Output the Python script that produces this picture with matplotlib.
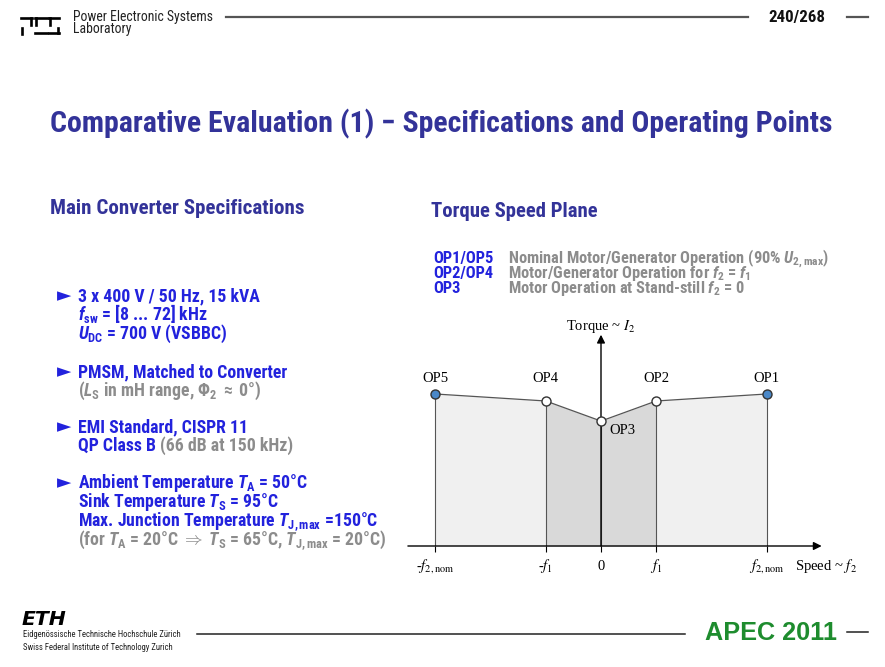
import matplotlib
matplotlib.use("Agg")
import matplotlib.pyplot as plt
from matplotlib import font_manager
import numpy as np

# torque-speed plane: operating points (speed in units of f1, torque normalised)
speed = np.array([-3.0, -1.0, 0.0, 1.0, 3.0])
torque = np.array([1.0, 0.954, 0.822, 0.954, 1.0])
op_names = ["OP5", "OP4", "OP3", "OP2", "OP1"]
op_nominal = [True, False, False, False, True]
speed_labels = [r"-$f_{2,\mathrm{nom}}$", r"-$f_1$", "0", r"$f_1$", r"$f_{2,\mathrm{nom}}$"]

legend_keys = ["OP1/OP5", "OP2/OP4", "OP3"]
legend_text = [r"Nominal Motor/Generator Operation (90% $\mathit{U}_{\mathrm{2,max}}$)",
               r"Motor/Generator Operation for $\mathit{f}_{\mathrm{2}}$ = $\mathit{f}_{\mathrm{1}}$",
               r"Motor Operation at Stand-still $\mathit{f}_{\mathrm{2}}$ = 0"]

BLUE = "#2222dd"
GREY = "#8c8c8c"
NAVY = "#333399"

# pick a narrow sans if there is one
names = {f.name for f in font_manager.fontManager.ttflist}
FAM = "Roboto"
for cand in ["Liberation Sans Narrow", "Roboto Condensed", "Noto Sans Condensed", "Open Sans Condensed"]:
    if cand in names:
        FAM = cand
        break

plt.rcParams["mathtext.fontset"] = "custom"
plt.rcParams["mathtext.rm"] = FAM + ":bold"
plt.rcParams["mathtext.bf"] = FAM + ":bold"
plt.rcParams["mathtext.it"] = FAM + ":italic:bold"

fig = plt.figure(figsize=(8.85, 6.67), dpi=100)
renderer = fig.canvas.get_renderer()
bg = fig.add_axes([0, 0, 1, 1])
bg.set_xlim(0, 885)
bg.set_ylim(667, 0)
bg.axis("off")


def width(s, size, **kw):
    t = bg.text(0, 0, s, fontsize=size, **kw)
    w = t.get_window_extent(renderer).width
    t.remove()
    return w


def fit(s, target, **kw):
    return 10 * target / width(s, 10, **kw)


sans = dict(family=FAM, fontweight="bold", math_fontfamily="custom")

# header (PES logo drawn from bars)
logo = [((21, 32), (17.5, 17.5)), ((31, 31), (17.5, 25)), ((22, 22), (27.5, 33.5)),
        ((35, 47), (17.5, 17.5)), ((36, 36), (17.5, 25)), ((35, 47), (33, 33)),
        ((49, 59), (17.5, 17.5)), ((50, 50), (17.5, 25)), ((49, 59), (33, 33)), ((58, 58), (27.5, 33))]
for xs, ys in logo:
    bg.plot(xs, ys, color="black", lw=1.9, solid_capstyle="projecting")
hsize = fit("Power Electronic Systems", 140, family=FAM)
bg.text(73, 21, "Power Electronic Systems", family=FAM, fontsize=hsize, color="#222222", va="baseline")
bg.text(73, 33, "Laboratory", family=FAM, fontsize=hsize, color="#222222", va="baseline")
bg.plot([226, 748], [17, 17], color="#555555", lw=1.6)
bg.text(768, 22, "240/268", fontsize=fit("240/268", 57, **sans), color="#111111", va="baseline", **sans)
bg.plot([847, 868], [17, 17], color="#555555", lw=1.6)

# title and section headings
title = "Comparative Evaluation (1) \u2212 Specifications and Operating Points"
bg.text(50, 132, title, fontsize=fit(title, 783, **sans), color=NAVY, va="baseline", **sans)
bg.text(50, 214, "Main Converter Specifications",
        fontsize=fit("Main Converter Specifications", 255, **sans), color=NAVY, va="baseline", **sans)
bg.text(431, 217, "Torque Speed Plane",
        fontsize=fit("Torque Speed Plane", 167, **sans), color=NAVY, va="baseline", **sans)

# bullet list
bullets = [
    (301, [[("3 x 400 V / 50 Hz, 15 kVA", BLUE)],
           [(r"$\mathit{f}_{\mathrm{sw}}$ = [8 ... 72] kHz", BLUE)],
           [(r"$\mathit{U}_{\mathrm{DC}}$ = 700 V (VSBBC)", BLUE)]]),
    (377, [[("PMSM, Matched to Converter", BLUE)],
           [(r"($\mathit{L}_{\mathrm{S}}$ in mH range, $\Phi_{\mathrm{2}}$ $\approx$ 0°)", GREY)]]),
    (432, [[("EMI Standard, CISPR 11", BLUE)],
           [("QP Class B", BLUE), ("(66 dB at 150 kHz)", GREY)]]),
    (488, [[(r"Ambient Temperature $\mathit{T}_{\mathrm{A}}$ = 50°C", BLUE)],
           [(r"Sink Temperature $\mathit{T}_{\mathrm{S}}$ = 95°C", BLUE)],
           [(r"Max. Junction Temperature $\mathit{T}_{\mathrm{J,max}}$ =150°C", BLUE)],
           [(r"(for $\mathit{T}_{\mathrm{A}}$ = 20°C $\Rightarrow$ $\mathit{T}_{\mathrm{S}}$ = 65°C, "
             r"$\mathit{T}_{\mathrm{J,max}}$ = 20°C)", GREY)]]),
]
bsize = 0.5 * (fit(bullets[3][1][3][0][0], 305, **sans) + fit(bullets[3][1][2][0][0], 305, **sans))
gap = width("x x", bsize, **sans) - width("xx", bsize, **sans)
for y0, lines in bullets:
    bg.text(57, y0, "\u25ba", family="DejaVu Sans", fontsize=bsize * 1.05, color=BLUE, va="baseline")
    for i, pieces in enumerate(lines):
        x = 78
        for s, c in pieces:
            t = bg.text(x, y0 + 19 * i, s, fontsize=bsize, color=c, va="baseline", **sans)
            x += t.get_window_extent(renderer).width + gap

# legend of operating points
lsize = fit(legend_text[0], 322, **sans)
for i, (k, s) in enumerate(zip(legend_keys, legend_text)):
    bg.text(433, 263 + 15 * i, k, fontsize=lsize, color=BLUE, va="baseline", **sans)
    bg.text(508, 263 + 15 * i, s, fontsize=lsize, color=GREY, va="baseline", **sans)

# footer
bg.text(22, 625, "ETH", family="DejaVu Sans", fontweight="heavy", style="italic",
        fontsize=fit("ETH", 45, family="DejaVu Sans", fontweight="heavy", style="italic"), va="baseline")
fsize = fit("Eidgenössische Technische Hochschule Zürich", 159, family=FAM)
bg.text(23, 637, "Eidgenössische Technische Hochschule Zürich", family=FAM, fontsize=fsize,
        color="#222222", va="baseline")
bg.text(23, 650, "Swiss Federal Institute of Technology Zurich", family=FAM, fontsize=fsize,
        color="#222222", va="baseline")
bg.plot([197, 685], [634, 634], color="#222222", lw=1.1)
apec_font = dict(family="Liberation Sans", fontweight="bold")
asize = fit("APEC 2011", 132, **apec_font)
bg.text(705, 640, "APEC 2011", fontsize=asize, color="#1e8c2e", va="baseline", **apec_font)
bg.plot([847, 868], [632, 632], color="#222222", lw=1.1)

# torque speed plane
px = 55.17   # pixels per speed unit
py = 152.0   # pixels per torque unit
ax = fig.add_axes([(601 - 3.5 * px) / 885, (667 - 546) / 667, 7.5 * px / 885, 1.4 * py / 667])
ax.set_xlim(-3.5, 4.0)
ax.set_ylim(0, 1.4)
ax.axis("off")

inner = np.abs(speed) <= 1
ax.fill_between(speed, torque, color="#f0f0f0", lw=0)
ax.fill_between(speed[inner], torque[inner], color="#d9d9d9", lw=0)
ax.vlines(speed, 0, torque, color="#555555", lw=0.8)
ax.plot(speed, torque, color="#555555", lw=0.9)

arrow = dict(arrowstyle="-|>", color="black", lw=1.0, mutation_scale=12, shrinkA=0, shrinkB=0)
ax.annotate("", xy=(4.0, 0), xytext=(-3.5, 0), arrowprops=arrow, annotation_clip=False)
ax.annotate("", xy=(0, 1.39), xytext=(0, 0), arrowprops=arrow, annotation_clip=False)
ax.vlines(speed, -0.04, 0, color="black", lw=0.8, clip_on=False)

for x, y, nominal in zip(speed, torque, op_nominal):
    ax.plot(x, y, "o", ms=6.5, mfc="#4a88c8" if nominal else "white", mec="#333333", mew=1,
            clip_on=False, zorder=5)

serif = dict(family="Liberation Serif", fontsize=10.5, math_fontfamily="stix")
for x, name in zip(speed, op_names):
    if name == "OP3":
        ax.text(x + 0.145, 0.757, name, ha="left", va="center", **serif)
    else:
        ax.text(x, 1.105, name, ha="center", va="center", **serif)

for x, lab in zip(speed, speed_labels):
    ax.annotate(lab, xy=(x, 0), xytext=(0, -20), textcoords="offset pixels",
                ha="center", va="center", annotation_clip=False, **serif)
ax.annotate(r"Speed ~ $f_2$", xy=(3.52, 0), xytext=(0, -20), textcoords="offset pixels",
            ha="left", va="center", annotation_clip=False, **serif)
ax.text(0, 1.447, r"Torque ~ $I_2$", ha="center", va="center", clip_on=False, **serif)

fig.savefig("out.png", dpi=100)
